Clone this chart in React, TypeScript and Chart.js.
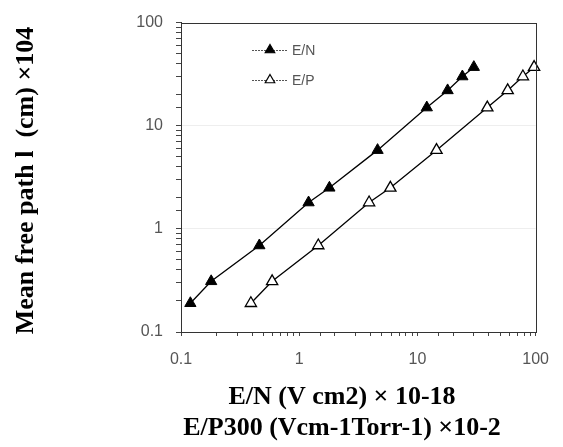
import React, { useEffect, useRef } from "react";
import { Chart, registerables } from "chart.js";

Chart.register(...registerables);

// E/N (V cm2) x 10^-18 values
const enX = [0.12, 0.18, 0.46, 1.2, 1.8, 4.6, 12, 18, 24, 30];
// E/P300 (Vcm-1 Torr-1) x 10^-2 values
const epX = [0.39, 0.59, 1.45, 3.9, 5.9, 14.5, 39, 58, 78, 97];
// Mean free path l (cm) x 10^4
const mfp = [0.19, 0.31, 0.69, 1.8, 2.5, 5.8, 15, 22, 30, 37];

const seriesNames = ["E/N", "E/P"];
const yTitle = "Mean free path l  (cm) \u00d7104";
const xTitle1 = "E/N (V cm2) \u00d7 10-18";
const xTitle2 = "E/P300 (Vcm-1Torr-1) \u00d710-2";

const W = 563;
const H = 447;

function isMajor(v: number) {
  const l = Math.log10(v);
  return Math.abs(l - Math.round(l)) < 1e-6;
}

function tri(ctx: CanvasRenderingContext2D, x: number, y: number, r: number) {
  let rad = 0;
  ctx.beginPath();
  ctx.moveTo(x + Math.sin(rad) * r, y - Math.cos(rad) * r);
  rad += (2 * Math.PI) / 3;
  ctx.lineTo(x + Math.sin(rad) * r, y - Math.cos(rad) * r);
  rad += (2 * Math.PI) / 3;
  ctx.lineTo(x + Math.sin(rad) * r, y - Math.cos(rad) * r);
  ctx.closePath();
}

const decorPlugin = {
  id: "decor",
  afterDraw(chart: any) {
    const ctx = chart.ctx as CanvasRenderingContext2D;
    const a = chart.chartArea;
    ctx.save();
    // frame
    ctx.strokeStyle = "#333";
    ctx.lineWidth = 1;
    ctx.strokeRect(Math.round(a.left) + 0.5, Math.round(a.top) + 0.5, Math.round(a.right - a.left), Math.round(a.bottom - a.top));

    // legend
    const lx0 = 252, lx1 = 288, tx = 292;
    const rows = [50, 80];
    ctx.font = "14px 'Liberation Sans', sans-serif";
    ctx.textBaseline = "middle";
    ctx.textAlign = "left";
    rows.forEach((ry, i) => {
      ctx.strokeStyle = "#555";
      ctx.lineWidth = 1;
      ctx.setLineDash([2, 1]);
      ctx.beginPath();
      ctx.moveTo(lx0, ry + 0.5);
      ctx.lineTo(lx1, ry + 0.5);
      ctx.stroke();
      ctx.setLineDash([]);
      tri(ctx, 270, ry, 5.5);
      ctx.fillStyle = i === 0 ? "#000" : "#fff";
      ctx.fill();
      ctx.strokeStyle = "#000";
      ctx.lineWidth = 1.2;
      ctx.stroke();
      ctx.fillStyle = "#555";
      ctx.fillText(seriesNames[i], tx, ry + 1);
    });

    // axis titles
    ctx.fillStyle = "#000";
    ctx.font = "bold 26px 'Liberation Serif', serif";
    ctx.textAlign = "center";
    ctx.textBaseline = "alphabetic";
    ctx.fillText(xTitle1, 342, 404);
    ctx.fillText(xTitle2, 342, 435);
    ctx.translate(33, 180.5);
    ctx.rotate(-Math.PI / 2);
    ctx.fillText(yTitle, 0, 0);
    ctx.restore();
  },
};

export default function App() {
  const ref = useRef<HTMLCanvasElement | null>(null);

  useEffect(() => {
    if (!ref.current) return;
    const chart = new Chart(ref.current, {
      type: "line",
      data: {
        datasets: [
          {
            label: seriesNames[0],
            data: enX.map((x, i) => ({ x, y: mfp[i] })),
            borderColor: "#000",
            borderWidth: 1.3,
            backgroundColor: "#000",
            pointStyle: "triangle",
            pointRadius: 6.5,
            pointBorderWidth: 1,
            pointBackgroundColor: "#000",
            pointBorderColor: "#000",
            tension: 0,
            clip: false as any,
          },
          {
            label: seriesNames[1],
            data: epX.map((x, i) => ({ x, y: mfp[i] })),
            borderColor: "#000",
            borderWidth: 1.3,
            backgroundColor: "#fff",
            pointStyle: "triangle",
            pointRadius: 6.5,
            pointBorderWidth: 1.3,
            pointBackgroundColor: "#fff",
            pointBorderColor: "#000",
            tension: 0,
            clip: false as any,
          },
        ],
      },
      options: {
        animation: false,
        responsive: false,
        devicePixelRatio: 1,
        layout: { padding: { left: 0, top: 17, right: 20, bottom: 0 } },
        plugins: {
          legend: { display: false },
          tooltip: { enabled: false },
          title: { display: false },
        },
        scales: {
          x: {
            type: "logarithmic",
            min: 0.1,
            max: 100,
            afterFit: (s: any) => {
              s.height = H - 332;
            },
            border: { display: true, color: "#333" },
            grid: {
              drawOnChartArea: false,
              drawTicks: true,
              tickLength: 4,
              tickColor: "#444",
            },
            ticks: {
              autoSkip: false,
              maxRotation: 0,
              padding: 14,
              color: "#555",
              font: { family: "'Liberation Sans', sans-serif", size: 16 },
              callback: (v: any) => (isMajor(Number(v)) ? String(Number(v)) : ""),
            },
          },
          y: {
            type: "logarithmic",
            min: 0.1,
            max: 100,
            afterFit: (s: any) => {
              s.width = 181;
            },
            border: { display: true, color: "#333" },
            grid: {
              drawTicks: true,
              tickLength: 5,
              tickColor: "#444",
              color: (c: any) => {
                const v = c.tick ? c.tick.value : 0;
                return isMajor(v) && v > 0.1 && v < 100 ? "#eeeeee" : "rgba(0,0,0,0)";
              },
            },
            ticks: {
              autoSkip: false,
              padding: 13,
              color: "#555",
              font: { family: "'Liberation Sans', sans-serif", size: 16 },
              callback: (v: any) => (isMajor(Number(v)) ? String(Number(v)) : ""),
            },
          },
        },
      },
      plugins: [decorPlugin],
    } as any);
    return () => chart.destroy();
  }, []);

  return (
    <div style={{ position: "fixed", left: 0, top: 0, width: W, height: H, background: "#fff" }}>
      <canvas ref={ref} width={W} height={H} style={{ width: W, height: H, display: "block" }} />
    </div>
  );
}
